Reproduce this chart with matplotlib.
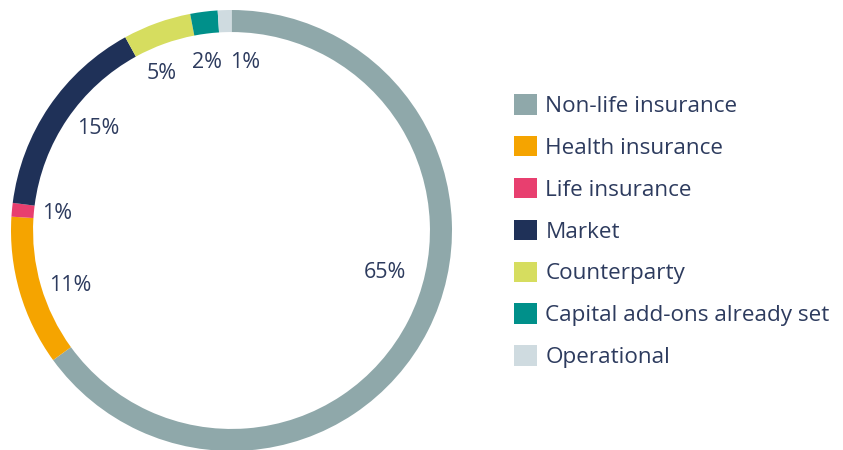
import matplotlib
matplotlib.use("Agg")
import matplotlib.pyplot as plt

categories = ["Non-life insurance", "Health insurance", "Life insurance", "Market",
              "Counterparty", "Capital add-ons already set", "Operational"]
values = [65, 11, 1, 15, 5, 2, 1]
pct_labels = ["65%", "11%", "1%", "15%", "5%", "2%", "1%"]
colors = ["#8fa8aa", "#f5a400", "#e83f6f", "#1f3158", "#d6dd5f", "#00908a", "#cfdbe0"]
label_xy = [(0.698, -0.190), (-0.732, -0.249), (-0.791, 0.077), (-0.605, 0.463),
            (-0.315, 0.712), (-0.111, 0.762), (0.061, 0.762)]
text_color = "#2d3b5e"

plt.rcParams['font.family'] = ['Open Sans', 'DejaVu Sans']

fig = plt.figure(figsize=(8.43, 4.5), dpi=100)
ax = fig.add_axes([11 / 843, (450 - 451) / 450, 441 / 843, 441 / 450])
wedges, _ = ax.pie(values, colors=colors, startangle=90, counterclock=False,
                   radius=1.0, wedgeprops=dict(width=0.1, linewidth=0))
ax.set_xlim(-1, 1)
ax.set_ylim(-1, 1)
ax.set_aspect('equal')
ax.axis('off')

for (x, y), t in zip(label_xy, pct_labels):
    ax.text(x, y, t, ha='center', va='center', fontsize=15.5, color=text_color)

fig.legend(wedges, categories, loc='upper left',
           bbox_to_anchor=(514 / 843, 1 - 94 / 450), frameon=False,
           fontsize=16.2, handlelength=1.03, handleheight=1.03, handletextpad=0.36,
           labelspacing=0.84, labelcolor=text_color, borderpad=0, borderaxespad=0)

fig.savefig("out.png", dpi=100, facecolor='white')
